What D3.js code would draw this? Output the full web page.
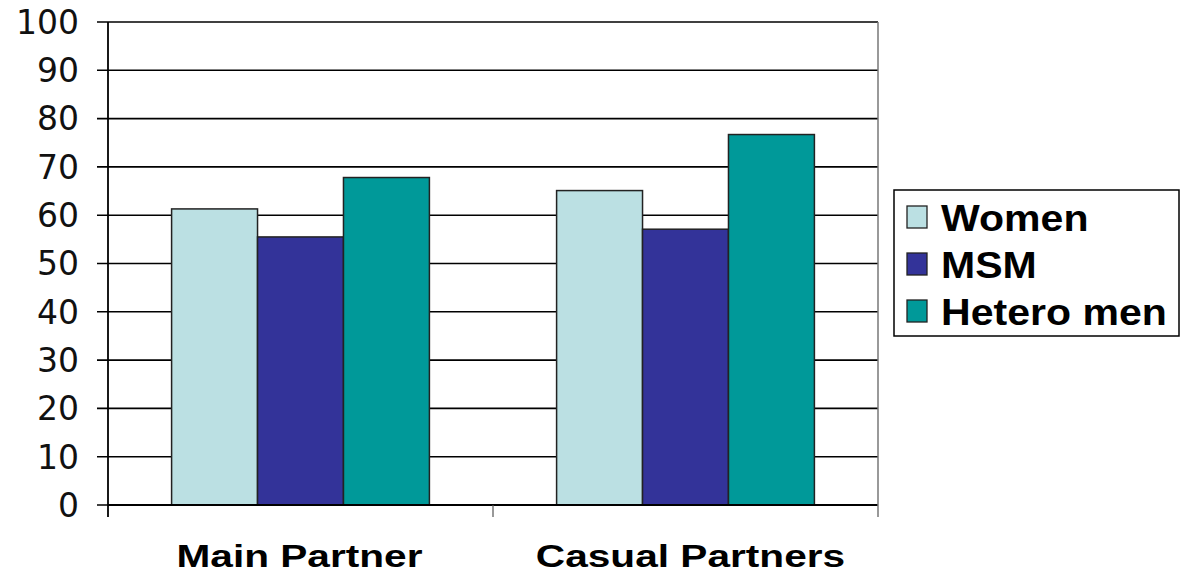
<!DOCTYPE html>
<html>
<head>
<meta charset="utf-8">
<script src="https://cdn.jsdelivr.net/npm/d3@7"></script>
<style>
  body { margin: 0; background: #fff; }
  svg { display: block; }
</style>
</head>
<body>
<svg id="chart" width="1183" height="574"></svg>
<script>
// values
const categories = ['Main Partner', 'Casual Partners'];
const seriesNames = ['Women', 'MSM', 'Hetero men'];
const women = [61.3, 65.1];
const msm = [55.5, 57.1];
const hetero = [67.8, 76.7];
const yTicks = [0, 10, 20, 30, 40, 50, 60, 70, 80, 90, 100];

const seriesValues = [women, msm, hetero];
const colors = ['#BBE0E3', '#333399', '#009999'];

const svg = d3.select('#chart');
const plotL = 108, plotR = 878, plotT = 22, plotB = 505;

const x0 = d3.scaleBand().domain(categories).range([plotL, plotR]).paddingInner(0).paddingOuter(0);
// three bars sit in the middle of each category, gaps on both sides
const x1 = d3.scaleBand().domain(seriesNames).range([0, x0.bandwidth()]).paddingOuter(0.74).paddingInner(0);
const y = d3.scaleLinear().domain([0, 100]).range([plotB, plotT]);

// the original text is drawn a bit wider than the font, stretch it
const stretch = (sel, k) => sel.each(function () {
  const w = this.getComputedTextLength();
  d3.select(this).attr('textLength', w * k).attr('lengthAdjust', 'spacingAndGlyphs');
});

// gridlines
svg.append('g')
  .selectAll('line')
  .data(yTicks)
  .join('line')
  .attr('x1', plotL - 11).attr('x2', plotR)
  .attr('y1', d => y(d)).attr('y2', d => y(d))
  .attr('stroke', '#000').attr('stroke-width', 1.6);

// y tick labels
svg.append('g')
  .selectAll('text')
  .data(yTicks)
  .join('text')
  .attr('x', 79).attr('y', d => y(d))
  .attr('dy', '0.36em')
  .attr('text-anchor', 'end')
  .attr('font-family', 'DejaVu Sans, Verdana, sans-serif')
  .attr('font-size', 33)
  .attr('fill', '#111')
  .text(d => d);

// bars
const groups = svg.append('g')
  .selectAll('g')
  .data(categories)
  .join('g')
  .attr('transform', d => `translate(${x0(d)},0)`);

groups.selectAll('rect')
  .data((c, ci) => seriesNames.map((s, si) => ({ s, si, v: seriesValues[si][ci] })))
  .join('rect')
  .attr('x', d => x1(d.s))
  .attr('width', x1.bandwidth())
  .attr('y', d => y(d.v))
  .attr('height', d => y(0) - y(d.v))
  .attr('fill', d => colors[d.si])
  .attr('stroke', '#222').attr('stroke-width', 1.5);

// axes
svg.append('line')
  .attr('x1', plotL).attr('x2', plotL).attr('y1', plotT).attr('y2', plotB + 12)
  .attr('stroke', '#000').attr('stroke-width', 1.8);
svg.append('line')
  .attr('x1', plotL).attr('x2', plotR).attr('y1', plotB).attr('y2', plotB)
  .attr('stroke', '#000').attr('stroke-width', 1.8);
svg.append('line')
  .attr('x1', plotR).attr('x2', plotR).attr('y1', plotT).attr('y2', plotB + 12)
  .attr('stroke', '#777').attr('stroke-width', 1.5);
svg.append('line')
  .attr('x1', x0(categories[1])).attr('x2', x0(categories[1])).attr('y1', plotB).attr('y2', plotB + 12)
  .attr('stroke', '#555').attr('stroke-width', 1.2);

// category labels
svg.append('g')
  .selectAll('text')
  .data(categories)
  .join('text')
  .attr('x', (d, i) => x0(d) + x0.bandwidth() / 2 + (i === 0 ? -1 : 5))
  .attr('y', 567)
  .attr('text-anchor', 'middle')
  .attr('font-family', 'Liberation Sans, Arial, sans-serif')
  .attr('font-weight', 'bold')
  .attr('font-size', 31)
  .attr('fill', '#000')
  .text(d => d)
  .call(stretch, 1.31);

// legend
const legend = svg.append('g');
legend.append('rect')
  .attr('x', 894).attr('y', 190).attr('width', 285).attr('height', 146)
  .attr('fill', '#fff').attr('stroke', '#000').attr('stroke-width', 1.5);

const items = legend.selectAll('g.item')
  .data(seriesNames)
  .join('g')
  .attr('class', 'item')
  .attr('transform', (d, i) => `translate(0,${231 + i * 47})`);

items.append('rect')
  .attr('x', 907).attr('y', -25).attr('width', 20).attr('height', 22)
  .attr('fill', (d, i) => colors[i])
  .attr('stroke', '#222').attr('stroke-width', 1.3);

items.append('text')
  .attr('x', 941).attr('y', 0)
  .attr('font-family', 'Liberation Sans, Arial, sans-serif')
  .attr('font-weight', 'bold')
  .attr('font-size', 36)
  .attr('fill', '#000')
  .text(d => d)
  .call(stretch, 1.14);
</script>
</body>
</html>
